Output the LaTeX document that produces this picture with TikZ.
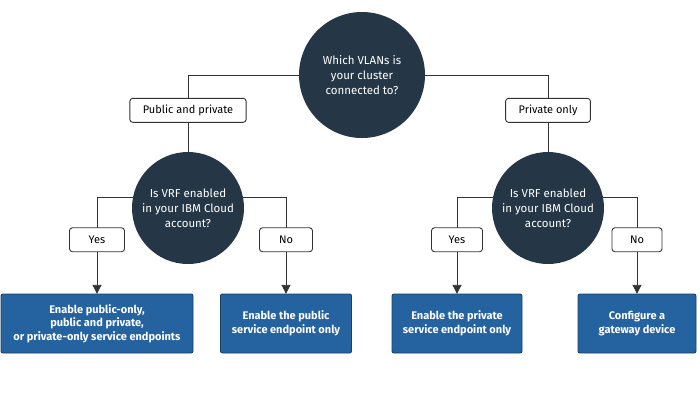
\documentclass[tikz,border=0pt]{standalone}
\usepackage{fontspec}
\setmainfont{Fira Sans}
\usetikzlibrary{arrows.meta,trees}

\definecolor{slate}{HTML}{253746}
\definecolor{ibmblue}{HTML}{2562A0}
\definecolor{bluerim}{HTML}{1C3F66}
\definecolor{wire}{HTML}{333333}

\tikzset{
	question/.style={circle, fill=slate, text=white, align=center, inner sep=0pt,
			font=\fontsize{11.5}{15}\selectfont},
	choice/.style={draw=wire, fill=white, rounded corners=3pt, line width=0.9pt,
			minimum height=24pt, inner xsep=13pt, font=\fontsize{11}{13}\selectfont},
	answer/.style={draw=bluerim, fill=ibmblue, text=white, rounded corners=2pt,
			align=center, minimum height=59pt, font=\bfseries\fontsize{11}{13.5}\selectfont},
	fromleft/.style={edge from parent path={(\tikzparentnode.169) -| (\tikzchildnode)}},
	fromright/.style={edge from parent path={(\tikzparentnode.11) -| (\tikzchildnode)}},
	pubsplit/.style={grow via three points={one child at (0,-115.5) and two children at (-91,-115.5) and (98,-115.5)}},
	privsplit/.style={grow via three points={one child at (0,-115.5) and two children at (-91,-115.5) and (89,-115.5)}}
}

\begin{document}
\begin{tikzpicture}[
			x=1pt, y=1pt,
			edge from parent/.style={draw=wire, line width=0.9pt},
			level 1/.style={grow via three points={one child at (0,-133) and two children at (-174,-133) and (186,-133)},
					edge from parent path={(\tikzparentnode) -| (\tikzchildnode)}},
			level 2/.style={edge from parent/.style={draw=wire, line width=0.9pt, -{Triangle[width=9pt,length=9pt]}}}
		]
		\useasboundingbox (0,0) rectangle (700,-400);
		\node[question, minimum size=126pt] (vlans) at (362,-75) {Which VLANs is\\your cluster\\connected to?}
		child {
				node[question, minimum size=112pt] (vrfboth) {Is VRF enabled\\in your IBM Cloud\\account?}
				child[fromleft, pubsplit] {
						node[answer, minimum width=192pt] (anyend) {Enable public-only,\\public and private,\\or private-only service endpoints}
						edge from parent node[choice, pos=0.72, minimum width=55pt] (yesboth) {Yes}
					}
				child[fromright, pubsplit] {
						node[answer, minimum width=131pt] (pubend) {Enable the public\\service endpoint only}
						edge from parent node[choice, pos=0.72, minimum width=53pt] (noboth) {No}
					}
				edge from parent node[choice, pos=0.73] (pubpriv) {Public and private}
			}
		child {
				node[question, minimum size=112pt] (vrfpriv) {Is VRF enabled\\in your IBM Cloud\\account?}
				child[fromleft, privsplit] {
						node[answer, minimum width=130pt] (privend) {Enable the private\\service endpoint only}
						edge from parent node[choice, pos=0.72, minimum width=51pt] (yespriv) {Yes}
					}
				child[fromright, privsplit] {
						node[answer, minimum width=118pt] (gateway) {Configure a\\gateway device}
						edge from parent node[choice, pos=0.72, minimum width=50pt] (nopriv) {No}
					}
				edge from parent node[choice, pos=0.73] (privonly) {Private only}
			};
	\end{tikzpicture}
\end{document}
